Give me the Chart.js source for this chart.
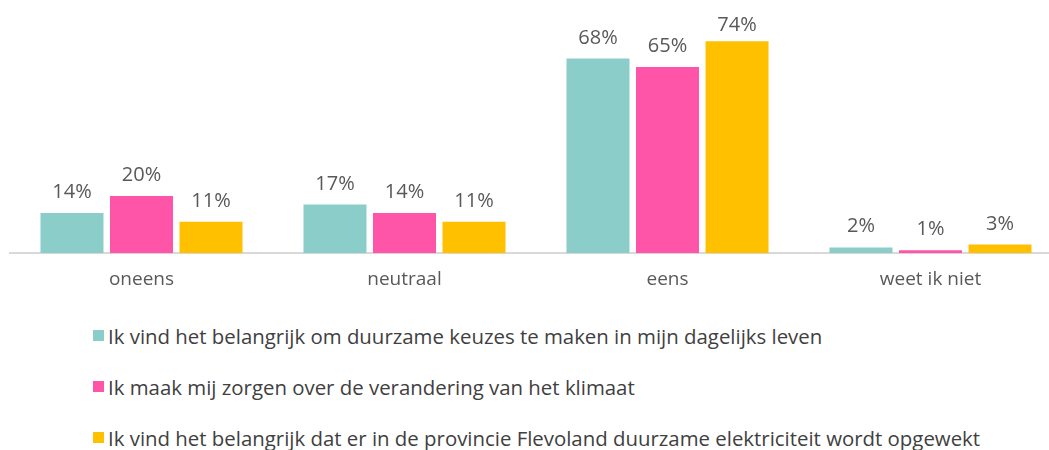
<!DOCTYPE html>
<html>
<head>
<meta charset="utf-8">
<script src="https://cdn.jsdelivr.net/npm/chart.js@4/dist/chart.umd.min.js"></script>
<style>
  html,body{margin:0;padding:0;background:#fff;overflow:hidden;width:1049px;height:450px;}
  #clip{position:absolute;left:0;top:0;width:1049px;height:306px;overflow:hidden;}
  #wrap{position:absolute;left:0;top:0;width:1062px;height:306px;}
  #legend{position:absolute;left:93px;top:310px;font-family:"Open Sans",sans-serif;font-size:20.4px;color:#404040;}
  .item{display:flex;align-items:center;height:51px;margin:0;white-space:nowrap;}
  .box{width:11px;height:11px;margin-right:4px;flex:none;}
</style>
</head>
<body>
<div id="clip"><div id="wrap"><canvas id="c"></canvas></div></div>
<div id="legend"></div>
<script>
const categories = ["oneens", "neutraal", "eens", "weet ik niet"];
const seriesNames = [
  "Ik vind het belangrijk om duurzame keuzes te maken in mijn dagelijks leven",
  "Ik maak mij zorgen over de verandering van het klimaat",
  "Ik vind het belangrijk dat er in de provincie Flevoland duurzame elektriciteit wordt opgewekt"
];
const duurzameKeuzes = [14, 17, 68, 2];
const zorgenKlimaat = [20, 14, 65, 1];
const duurzameElektriciteit = [11, 11, 74, 3];
const colors = ["#8ACDC9", "#FF55A8", "#FFC000"];

const series = [duurzameKeuzes, zorgenKlimaat, duurzameElektriciteit];

const labelPlugin = {
  id: 'valueLabels',
  afterDatasetsDraw(chart) {
    const ctx = chart.ctx;
    ctx.save();
    ctx.font = '20px "Open Sans", sans-serif';
    ctx.fillStyle = '#595959';
    ctx.textAlign = 'center';
    ctx.textBaseline = 'alphabetic';
    chart.data.datasets.forEach((ds, i) => {
      chart.getDatasetMeta(i).data.forEach((bar, j) => {
        ctx.fillText(ds.data[j] + '%', bar.x, Math.max(bar.y - 15, 31));
      });
    });
    ctx.restore();
  }
};

new Chart(document.getElementById('c'), {
  type: 'bar',
  data: {
    labels: categories,
    datasets: series.map((d, i) => ({
      label: seriesNames[i],
      data: d,
      backgroundColor: colors[i],
      borderWidth: 0,
      categoryPercentage: 0.793,
      barPercentage: 0.906
    }))
  },
  options: {
    responsive: true,
    maintainAspectRatio: false,
    animation: false,
    layout: { padding: { left: 10, right: 0, top: 23, bottom: 0 } },
    plugins: { legend: { display: false }, tooltip: { enabled: false } },
    scales: {
      x: {
        grid: { display: false, drawTicks: false },
        border: { display: true, color: '#D9D9D9', width: 2 },
        ticks: { color: '#595959', font: { family: '"Open Sans", sans-serif', size: 19 }, padding: 15 }
      },
      y: {
        display: false,
        min: 0,
        max: 80.4
      }
    }
  },
  plugins: [labelPlugin]
});

const leg = document.getElementById('legend');
seriesNames.forEach((n, i) => {
  const it = document.createElement('div');
  it.className = 'item';
  const b = document.createElement('span');
  b.className = 'box';
  b.style.background = colors[i];
  const t = document.createElement('span');
  t.textContent = n;
  it.appendChild(b); it.appendChild(t);
  leg.appendChild(it);
});
</script>
</body>
</html>
